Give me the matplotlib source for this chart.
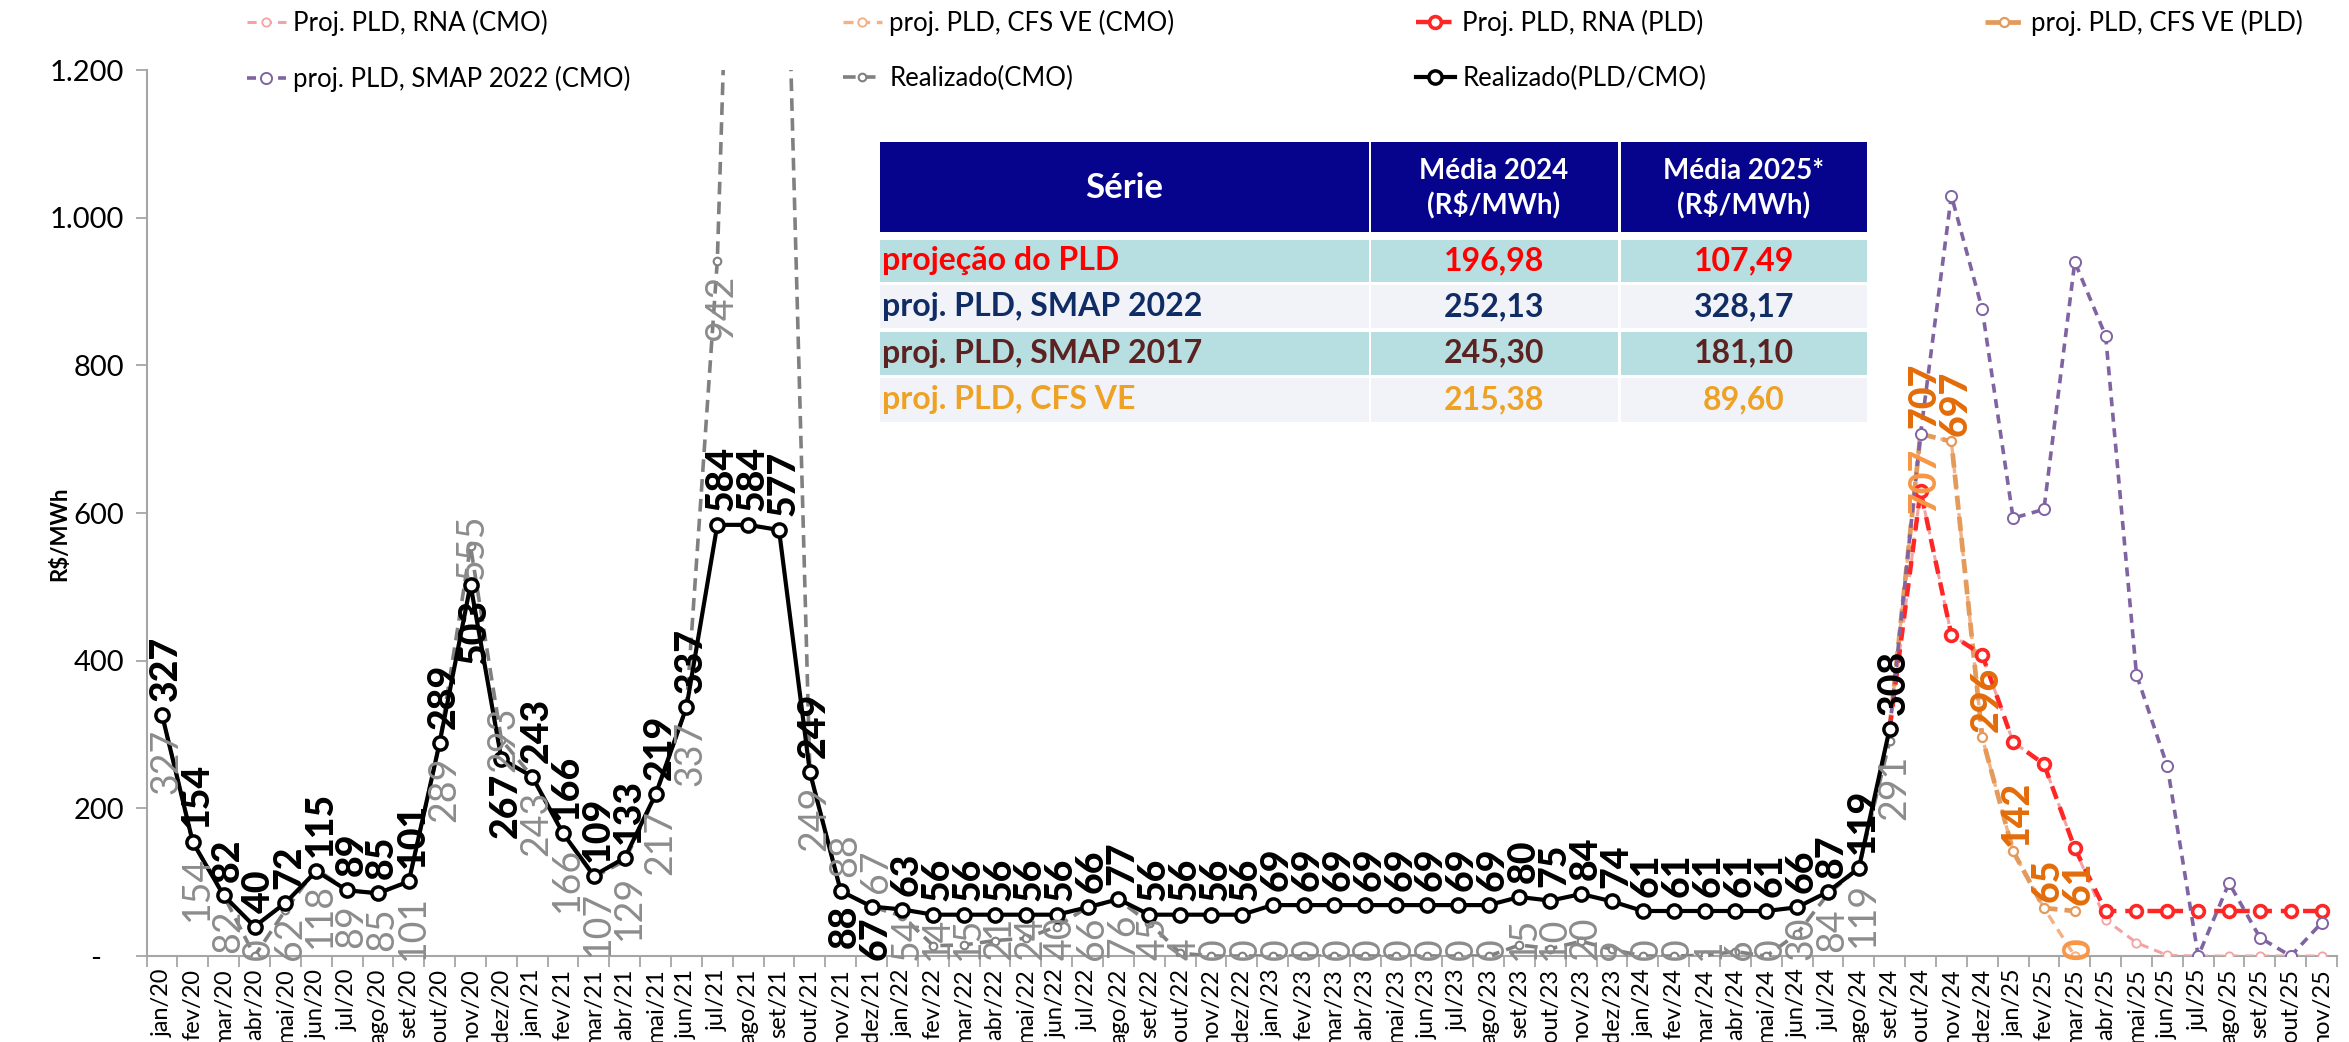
import matplotlib
matplotlib.use("Agg")
import matplotlib.pyplot as plt
import matplotlib.transforms as mtransforms
from matplotlib.patches import Rectangle
import numpy as np

nan = np.nan

# categorias mensais jan/20 .. nov/25
meses = ["jan", "fev", "mar", "abr", "mai", "jun", "jul", "ago", "set", "out", "nov", "dez"]
categorias = [f"{m}/{a}" for a in range(20, 26) for m in meses][:71]

# histórico (jan/20 .. set/24), R$/MWh
realizado_pld = [327, 154, 82, 40, 72, 115, 89, 85, 101, 289, 503, 267,
                 243, 166, 109, 133, 219, 337, 584, 584, 577, 249, 88, 67,
                 63, 56, 56, 56, 56, 56, 66, 77, 56, 56, 56, 56,
                 69, 69, 69, 69, 69, 69, 69, 69, 80, 75, 84, 74,
                 61, 61, 61, 61, 61, 66, 87, 119, 308]
realizado_cmo = [327, 154, 82, 0, 62, 118, 89, 85, 101, 289, 555, 293,
                 243, 166, 107, 129, 217, 337, 942, 2300, 1800, 249, 88, 67,
                 54, 14, 15, 21, 24, 40, 66, 76, 45, 4, 0, 0,
                 0, 0, 0, 0, 0, 0, 0, 0, 15, 10, 20, 9,
                 0, 0, 1, 6, 0, 30, 84, 119, 291]

# projeções a partir de set/24
inicio_proj = "set/24"
proj_rna_pld = [308, 630, 435, 408, 290, 260, 146, 61, 61, 61, 61, 61, 61, 61, 61]
proj_rna_cmo = [308, 630, 435, 408, 290, 260, 146, 49, 18, 1, 0, 0, 0, 0, 0]
proj_smap22_cmo = [308, 707, 1030, 876, 593, 605, 940, 840, 381, 257, 0, 99, 25, 0, 45]
proj_cfs_pld = [308, 707, 697, 296, 142, 65, 61]
proj_cfs_cmo = [308, 707, 697, 296, 142, 65, 0]
cfs_cmo_com_rotulo = ["out/24", "mar/25"]

# tabela de médias
tabela_series = ["projeção do PLD", "proj. PLD, SMAP 2022", "proj. PLD, SMAP 2017", "proj. PLD, CFS VE"]
media_2024 = [196.98, 252.13, 245.30, 215.38]
media_2025 = [107.49, 328.17, 181.10, 89.60]
tabela_cores = ["#FF0000", "#0F2C64", "#5C2222", "#EEA225"]

FONTE = "Lato"

n = len(categorias)
x = np.arange(n)


def serie_completa(valores, inicio=0):
    arr = np.full(n, nan)
    arr[inicio:inicio + len(valores)] = valores
    return arr


i0 = categorias.index(inicio_proj)
y_pld = serie_completa(realizado_pld)
y_cmo = serie_completa(realizado_cmo)
y_rna_pld = serie_completa(proj_rna_pld, i0)
y_rna_cmo = serie_completa(proj_rna_cmo, i0)
y_smap = serie_completa(proj_smap22_cmo, i0)
y_cfs_pld = serie_completa(proj_cfs_pld, i0)
y_cfs_cmo = serie_completa(proj_cfs_cmo, i0)

W, H = 2349, 1042
fig = plt.figure(figsize=(W / 100, H / 100), dpi=100)
px = mtransforms.Affine2D().scale(1 / W, -1 / H).translate(0, 1) + fig.transFigure

ax = fig.add_axes([0.0624, 0.0825, 0.9325, 0.8503])
ax.set_xlim(-0.5, n - 0.5)
ax.set_ylim(0, 1200)

l_rna_cmo, = ax.plot(x, y_rna_cmo, ls=(0, (3, 2)), lw=2.2, color="#F4A3A3", marker="o", ms=6,
                     mfc="white", mec="#F4A3A3", mew=1.3, zorder=3, label="Proj. PLD, RNA (CMO)")
l_cfs_cmo, = ax.plot(x, y_cfs_cmo, ls=(0, (3, 2)), lw=2.4, color="#F4B183", marker="o", ms=6,
                     mfc="white", mec="#F4B183", mew=1.4, zorder=3.5, label="proj. PLD, CFS VE (CMO)")
l_cfs_pld, = ax.plot(x, y_cfs_pld, ls=(0, (3, 1.5)), lw=3.4, color="#E39A5B", marker="o", ms=6.5,
                     mfc="white", mec="#E39A5B", mew=1.6, zorder=4, label="proj. PLD, CFS VE (PLD)")
l_rna_pld, = ax.plot(x, y_rna_pld, ls=(0, (3, 2)), lw=3.2, color="#FF2626", marker="o", ms=8.5,
                     mfc="white", mec="#FF2626", mew=2.6, zorder=5, label="Proj. PLD, RNA (PLD)")
l_smap, = ax.plot(x, y_smap, ls=(0, (2.5, 1.8)), lw=2.6, color="#8064A2", marker="o", ms=8,
                  mfc="white", mec="#8064A2", mew=1.4, zorder=6, label="proj. PLD, SMAP 2022 (CMO)")
l_cmo, = ax.plot(x, y_cmo, ls=(0, (3.5, 2)), lw=2.6, color="#808080", marker="o", ms=5.5,
                 mfc="white", mec="#808080", mew=1.5, zorder=6.5, label="Realizado(CMO)")
l_pld, = ax.plot(x, y_pld, ls="-", lw=3.0, color="black", marker="o", ms=9.5,
                 mfc="white", mec="black", mew=2.5, zorder=7, label="Realizado(PLD/CMO)")

# rótulos de dados (texto vertical)
LBL = 27
UNID_POR_CHAR = 27   # comprimento aproximado de um dígito em unidades do eixo y
OFF = 10


def rotulo(i, v, cor, peso, pos, fs=LBL, off=OFF, z=8):
    if np.isnan(v) or v > 1200:
        return
    txt = f"{v:.0f}"
    if pos == "abaixo" and v - 20 - len(txt) * UNID_POR_CHAR < 0:
        pos = "base"
    kw = dict(rotation=90, ha="center", fontsize=fs, fontweight=peso, color=cor,
              textcoords="offset points", zorder=z, family=FONTE)
    if pos == "acima":
        ax.annotate(txt, (i, v), xytext=(3, off), va="bottom", **kw)
    elif pos == "abaixo":
        ax.annotate(txt, (i, v), xytext=(3, -off), va="top", **kw)
    elif pos == "centro":
        ax.annotate(txt, (i, v), xytext=(1, 0), va="center", **kw)
    else:
        ax.annotate(txt, (i, 0), xytext=(3, -3), va="bottom", **kw)


pld_abaixo = {"nov/20", "dez/20", "nov/21", "dez/21"}
cmo_acima = {"nov/21", "dez/21"}
cmo_centro = {"nov/20", "dez/20"}

for i, c in enumerate(categorias):
    if c in cmo_acima:
        p = "acima"
    elif c in cmo_centro:
        p = "centro"
    else:
        p = "abaixo"
    rotulo(i, y_cmo[i], "#8C8C8C", "normal", p, z=7.5)
for i, c in enumerate(categorias):
    rotulo(i, y_pld[i], "black", "black", "abaixo" if c in pld_abaixo else "acima")
for i in range(i0 + 1, n):
    rotulo(i, y_cfs_pld[i], "#E36C09", "black", "acima", off=4)
for c in cfs_cmo_com_rotulo:
    i = categorias.index(c)
    rotulo(i, y_cfs_cmo[i], "#F79646", "bold", "abaixo")

# eixos
for s in ("top", "right"):
    ax.spines[s].set_visible(False)
for s in ("left", "bottom"):
    ax.spines[s].set_color("#A6A6A6")
    ax.spines[s].set_linewidth(1.5)

ax.set_xticks(x)
ax.set_xticklabels(categorias, rotation=90, fontsize=17, family=FONTE)
ax.set_xticks(np.arange(-0.5, n, 1), minor=True)
ax.tick_params(axis="x", which="major", length=0, pad=9)
ax.tick_params(axis="x", which="minor", length=8, width=1.3, color="#A6A6A6")

ax.set_yticks(range(0, 1201, 200))
ax.set_yticklabels(["-   ", "200", "400", "600", "800", "1.000", "1.200"], fontsize=21, family=FONTE)
ax.tick_params(axis="y", length=8, width=1.3, color="#A6A6A6", pad=8)

fig.text(60 / W, 0.488, "R$/MWh", rotation=90, ha="center", va="center",
         fontsize=16, fontweight="bold", family=FONTE)

# legenda em quatro colunas
colunas = [([l_rna_cmo, l_smap], 247), ([l_cfs_cmo, l_cmo], 843),
           ([l_rna_pld, l_pld], 1416), ([l_cfs_pld], 1985)]
for hs, xl in colunas:
    fig.legend(handles=hs, labels=[h.get_label() for h in hs], loc="upper left",
               bbox_to_anchor=(xl / W, 1 - 10 / H), frameon=False, borderpad=0,
               borderaxespad=0, handlelength=1.5, handletextpad=0.3, labelspacing=1.15,
               prop={"family": FONTE, "size": 18.5})

# tabela de médias
cols_x = [(880, 1369), (1371, 1618), (1621, 1867)]
linhas_y = [(240, 281.5), (285, 328), (331.5, 375), (378, 421.5)]
fundos = ["#B7DEE0", "#F2F3F8", "#B7DEE0", "#F2F3F8"]

for (xa, xb) in cols_x:
    fig.add_artist(Rectangle((xa, 142), xb - xa, 90, transform=px, facecolor="#06038D",
                             edgecolor="none", zorder=10))
fig.text(1124, 188, "Série", transform=px, ha="center", va="center", color="white",
         fontsize=25, fontweight="bold", family=FONTE, zorder=11)
fig.text(1494, 188, "Média 2024\n(R$/MWh)", transform=px, ha="center", va="center",
         color="white", fontsize=20, fontweight="bold", family=FONTE, linespacing=1.25, zorder=11)
fig.text(1744, 188, "Média 2025*\n(R$/MWh)", transform=px, ha="center", va="center",
         color="white", fontsize=20, fontweight="bold", family=FONTE, linespacing=1.25, zorder=11)

for r, (ya, yb) in enumerate(linhas_y):
    for (xa, xb) in cols_x:
        fig.add_artist(Rectangle((xa, ya), xb - xa, yb - ya, transform=px,
                                 facecolor=fundos[r], edgecolor="none", zorder=10))
    yc = (ya + yb) / 2
    kw = dict(transform=px, va="center", color=tabela_cores[r], fontsize=23,
              fontweight="bold", family=FONTE, zorder=11)
    fig.text(882, yc, tabela_series[r], ha="left", **kw)
    fig.text(1494, yc, f"{media_2024[r]:.2f}".replace(".", ","), ha="center", **kw)
    fig.text(1744, yc, f"{media_2025[r]:.2f}".replace(".", ","), ha="center", **kw)

fig.savefig("out.png", dpi=100)
